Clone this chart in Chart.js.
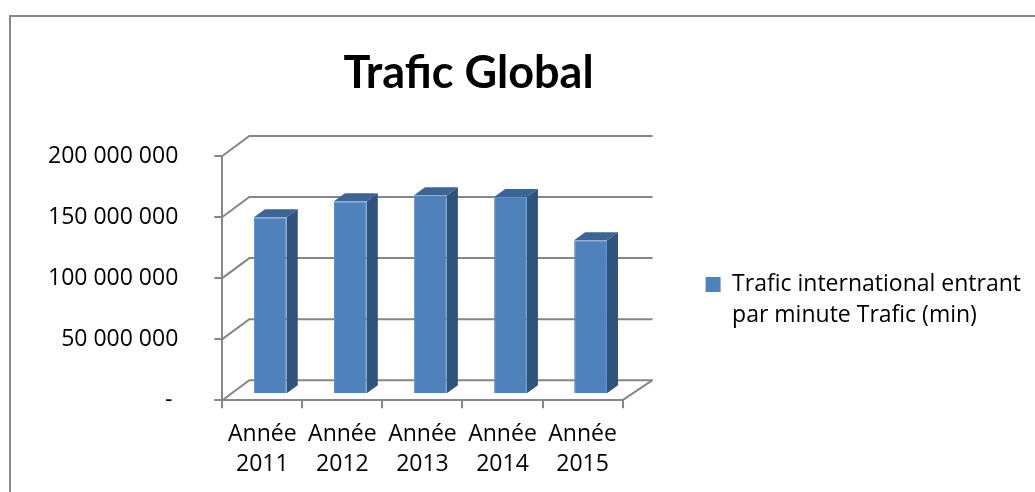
<!DOCTYPE html>
<html>
<head>
<meta charset="utf-8">
<script src="https://cdn.jsdelivr.net/npm/chart.js@4"></script>
<style>
  body { margin: 0; background: #fff; }
  canvas { display: block; }
</style>
</head>
<body>
<canvas id="chart" width="1035" height="492"></canvas>
<script>
const categories = [['Année', '2011'], ['Année', '2012'], ['Année', '2013'], ['Année', '2014'], ['Année', '2015']];
const trafic = [145000000, 158000000, 163000000, 161500000, 126000000];
const serieLabel = ['Trafic international entrant', 'par minute Trafic (min)'];
const fontFamily = '"Open Sans", sans-serif';
const titleFamily = 'Lato, sans-serif';
const lineGrey = '#868686';

// decalage du mur du fond et des barres (effet 3D)
const wall = { dx: 27, dy: -20, overshoot: 3 };
const barShift = { dx: 8, dy: -6 };
const barDepth = { dx: 11, dy: -8 };

// cadre, murs et faces des barres
const fake3d = {
  id: 'fake3d',
  afterLayout(chart) {
    // titre centre sur le cadre gauche, legende plus basse
    chart.titleBlock.left -= 53;
    chart.titleBlock.right -= 53;
    chart.legend.top += 36;
    chart.legend.bottom += 36;
  },
  beforeDraw(chart) {
    const ctx = chart.ctx;
    ctx.save();
    ctx.strokeStyle = lineGrey;
    ctx.lineWidth = 2;
    ctx.beginPath();
    ctx.moveTo(10, 492);
    ctx.lineTo(10, 16);
    ctx.lineTo(1035, 16);
    ctx.stroke();
    ctx.restore();
  },
  beforeDatasetsDraw(chart) {
    const ctx = chart.ctx;
    const y = chart.scales.y;
    const x = chart.scales.x;
    ctx.save();
    ctx.strokeStyle = lineGrey;
    ctx.lineWidth = 2;
    y.ticks.forEach(t => {
      const py = y.getPixelForValue(t.value);
      ctx.beginPath();
      ctx.moveTo(x.left, py);
      ctx.lineTo(x.left + wall.dx, py + wall.dy);
      ctx.lineTo(x.right + wall.dx + wall.overshoot, py + wall.dy);
      ctx.stroke();
    });
    ctx.beginPath();
    ctx.moveTo(x.right, y.bottom);
    ctx.lineTo(x.right + wall.dx + wall.overshoot, y.bottom + wall.dy);
    ctx.stroke();
    ctx.restore();

    // faces laterales et dessus
    const meta = chart.getDatasetMeta(0);
    ctx.save();
    ctx.translate(barShift.dx, barShift.dy);
    meta.data.forEach(bar => {
      const r = bar.x + bar.width / 2;
      const l = bar.x - bar.width / 2;
      ctx.fillStyle = '#31527b';
      ctx.beginPath();
      ctx.moveTo(r, bar.y);
      ctx.lineTo(r + barDepth.dx, bar.y + barDepth.dy);
      ctx.lineTo(r + barDepth.dx, bar.base + barDepth.dy);
      ctx.lineTo(r, bar.base);
      ctx.closePath();
      ctx.fill();
      ctx.fillStyle = '#3c6494';
      ctx.beginPath();
      ctx.moveTo(l, bar.y);
      ctx.lineTo(l + barDepth.dx, bar.y + barDepth.dy);
      ctx.lineTo(r + barDepth.dx, bar.y + barDepth.dy);
      ctx.lineTo(r, bar.y);
      ctx.closePath();
      ctx.fill();
    });
    // la face avant est dessinee par Chart.js avec le meme decalage
  },
  afterDatasetsDraw(chart) {
    chart.ctx.restore();
  }
};

new Chart(document.getElementById('chart').getContext('2d'), {
  type: 'bar',
  data: {
    labels: categories,
    datasets: [{
      label: serieLabel,
      data: trafic,
      backgroundColor: '#4f81bd',
      borderColor: '#6390c8',
      borderWidth: 1,
      barPercentage: 0.41,
      categoryPercentage: 1
    }]
  },
  options: {
    responsive: false,
    animation: false,
    layout: { padding: { top: 46, left: 12, right: 4, bottom: 2 } },
    plugins: {
      tooltip: { enabled: false },
      title: {
        display: true,
        text: 'Trafic Global',
        color: '#000',
        font: { family: titleFamily, size: 45, weight: 'bold' },
        padding: { top: 0, bottom: 56 }
      },
      legend: {
        display: true,
        position: 'right',
        maxWidth: 409,
        labels: {
          color: '#000',
          font: { family: fontFamily, size: 23, lineHeight: 1.35 },
          boxWidth: 15,
          boxHeight: 15,
          padding: 83,
          generateLabels(chart) {
            return [{ text: serieLabel, fillStyle: '#4f81bd', strokeStyle: '#4f81bd', lineWidth: 0, datasetIndex: 0 }];
          }
        }
      }
    },
    scales: {
      x: {
        grid: { drawOnChartArea: false, color: lineGrey, lineWidth: 2, tickLength: 8 },
        border: { color: lineGrey, width: 2 },
        ticks: {
          color: '#000',
          maxRotation: 0,
          padding: 11,
          font: { family: fontFamily, size: 23, lineHeight: 1.3 }
        }
      },
      y: {
        min: 0,
        max: 200000000,
        grid: { drawOnChartArea: false, color: lineGrey, lineWidth: 2, tickLength: 8 },
        border: { color: lineGrey, width: 2 },
        ticks: {
          stepSize: 50000000,
          color: '#000',
          padding: 36,
          font: { family: fontFamily, size: 23 },
          callback: v => v === 0 ? '- ' : String(v).replace(/\B(?=(\d{3})+$)/g, ' ')
        }
      }
    }
  },
  plugins: [fake3d]
});
</script>
</body>
</html>
